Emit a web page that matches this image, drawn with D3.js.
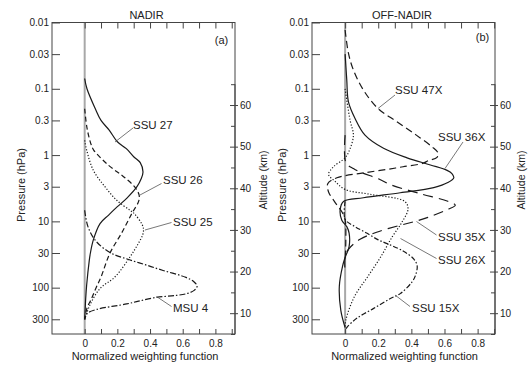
<!DOCTYPE html>
<html><head><meta charset="utf-8">
<script src="https://cdn.jsdelivr.net/npm/d3@7/dist/d3.min.js"></script>
<style>
body{margin:0;background:#fff}
svg{display:block}
text{font-family:"Liberation Sans",Arial,sans-serif;fill:#222}
</style>
</head><body>
<svg id="chart" width="528" height="365"></svg>
<script>
// ---------- data ----------
const pressureTicks = [0.01, 0.03, 0.1, 0.3, 1, 3, 10, 30, 100, 300];
const pressureTickLabels = ["0.01", "0.03", "0.1", "0.3", "1", "3", "10", "30", "100", "300"];
const altitudeTicks = [10, 20, 30, 40, 50, 60];
const altitudeMinorTicks = [5, 15, 25, 35, 45, 55, 65];
const weightTicks = [0, 0.2, 0.4, 0.6, 0.8];
const weightMinorTicks = [0, 0.1, 0.2, 0.3, 0.4, 0.5, 0.6, 0.7, 0.8, 0.9];
const panelTitles = ["NADIR", "OFF-NADIR"];
const panelTags = ["(a)", "(b)"];

// [pressure hPa, normalized weight]
const ssu27 = [[0.07,0],[0.1,0.014],[0.2,0.065],[0.3,0.1],[0.42,0.15],[0.63,0.2],[0.8,0.255],[1.06,0.3],[1.3,0.34],[1.8,0.357],[2.3,0.345],[3.0,0.32],[4.5,0.257],[6,0.2],[8.1,0.145],[10.8,0.094],[19,0.053],[30,0.035],[39,0.028],[92,0.012],[150,0.006],[300,0]];
const ssu26 = [[0.2,0],[0.4,0.015],[0.7,0.04],[0.84,0.055],[1.42,0.145],[2.1,0.236],[3.0,0.305],[4.0,0.333],[5.0,0.33],[7.5,0.29],[15,0.226],[30,0.155],[69,0.1],[100,0.07],[150,0.04],[200,0.015],[300,0]];
const ssu25 = [[0.6,0],[0.84,0.012],[1.7,0.053],[3.0,0.124],[4.8,0.196],[6.8,0.277],[7.7,0.305],[11,0.35],[13,0.36],[16,0.355],[21.6,0.328],[34.5,0.277],[69,0.185],[103,0.094],[183,0.032],[300,0]];
const msu4 = [[6.8,0],[12,0.02],[20,0.07],[30,0.16],[37,0.26],[45,0.37],[55,0.48],[70,0.62],[82,0.67],[95,0.688],[110,0.67],[122,0.63],[131,0.56],[140,0.44],[160,0.33],[176,0.257],[214,0.07],[245,0.016],[300,0]];

const ssu47x = [[0.013,0],[0.029,0.02],[0.052,0.05],[0.104,0.11],[0.2,0.2],[0.31,0.31],[0.5,0.43],[0.75,0.525],[0.92,0.56],[1.08,0.555],[1.22,0.5],[1.33,0.47],[1.5,0.35],[1.65,0.25],[1.86,0.11],[2.2,-0.05],[2.7,-0.105],[3.6,-0.1],[5.2,-0.06],[7.3,-0.018],[9.5,0],[20,0.004],[40,0]];
const ssu36x = [[0.03,0],[0.074,0.01],[0.157,0.02],[0.28,0.06],[0.5,0.12],[0.79,0.232],[1.1,0.374],[1.41,0.515],[1.7,0.616],[1.9,0.645],[2.2,0.656],[2.6,0.62],[3.1,0.535],[3.7,0.333],[4.4,0.11],[5.0,-0.01],[6.7,-0.03],[9.6,-0.02],[12,0.01],[15,0.024],[24,0.024],[35,0],[48,-0.016],[95,-0.035],[220,-0.026],[400,0]];
const ssu35x = [[0.5,0],[1.3,0.005],[1.6,0.05],[1.8,0.09],[2.33,0.21],[2.77,0.27],[3.8,0.45],[4.98,0.62],[5.7,0.665],[6.6,0.62],[8.7,0.5],[9.9,0.43],[11.5,0.33],[14.6,0.19],[18.6,0.09],[26.4,0.02],[35,0],[60,0]];
const ssu26x = [[0.1,0],[0.3,0.03],[0.5,0.05],[0.8,0.03],[1.1,0],[1.5,-0.07],[1.95,-0.1],[2.5,-0.06],[3.3,0],[3.9,0.15],[5.0,0.36],[6.5,0.38],[10.6,0.34],[17,0.285],[34,0.216],[69,0.135],[138,0.055],[310,0.004],[400,0]];
const ssu15x = [[5,0],[9.3,0],[12,0.06],[15,0.13],[19,0.2],[22,0.26],[28,0.35],[37,0.415],[47,0.435],[65,0.425],[82,0.404],[123,0.333],[146,0.273],[207,0.17],[290,0.07],[400,0.01],[450,0]];

const nadirSeries = [
  {name:"SSU 27", data:ssu27, dash:null},
  {name:"SSU 26", data:ssu26, dash:"5,3"},
  {name:"SSU 25", data:ssu25, dash:"1.2,1.8"},
  {name:"MSU 4",  data:msu4,  dash:"6,2,1.5,2"}
];
const offSeries = [
  {name:"SSU 47X", data:ssu47x, dash:"7,4"},
  {name:"SSU 36X", data:ssu36x, dash:null},
  {name:"SSU 35X", data:ssu35x, dash:"10,6"},
  {name:"SSU 26X", data:ssu26x, dash:"1.2,1.8"},
  {name:"SSU 15X", data:ssu15x, dash:"5,2,1.5,2"}
];
const nadirLabels = [
  {t:"SSU 27", tx:133, ty:129, lx1:133, ly1:128, lx2:115, ly2:142},
  {t:"SSU 26", tx:163, ty:184, lx1:161.5, ly1:183.5, lx2:140, ly2:195},
  {t:"SSU 25", tx:173, ty:226, lx1:171.5, ly1:222.5, lx2:145, ly2:230},
  {t:"MSU 4",  tx:173, ty:312, lx1:171.5, ly1:306.5, lx2:156.5, ly2:296.5}
];
const offLabels = [
  {t:"SSU 47X", tx:395, ty:94, lx1:395, ly1:95, lx2:378, ly2:108.5},
  {t:"SSU 36X", tx:438, ty:141, lx1:463, ly1:142, lx2:445, ly2:168.5},
  {t:"SSU 35X", tx:438, ty:241, lx1:436.5, ly1:235, lx2:416.5, ly2:221.5},
  {t:"SSU 26X", tx:438, ty:264, lx1:436.5, ly1:258.5, lx2:400.5, ly2:238.5},
  {t:"SSU 15X", tx:412, ty:312, lx1:410, ly1:306.5, lx2:395, ly2:295}
];

// ---------- drawing ----------
const svg = d3.select("#chart");
const plotTop = 22.5, plotBottom = 334;
const y = d3.scaleLog().domain([0.01, 500]).range([plotTop, plotBottom]);
const alt = d3.scaleLinear().domain([5, 65]).range([plotBottom, 84.2]);

const panels = [
  {left:52, right:235, xdom:[-0.2,0.92], series:nadirSeries, labels:nadirLabels, title:panelTitles[0], tag:panelTags[0], titleX:146.5, tagX:221.5, tagY:44, pLabX:25, aLabX:267, xLabX:145},
  {left:312, right:495, xdom:[-0.2,0.905], series:offSeries, labels:offLabels, title:panelTitles[1], tag:panelTags[1], titleX:402, tagX:482.5, tagY:41, pLabX:286, aLabX:524.5, xLabX:404.5}
];

panels.forEach(p => {
  const x = d3.scaleLinear().domain(p.xdom).range([p.left, p.right]);
  const g = svg.append("g");

  g.append("line").attr("x1", x(0)).attr("x2", x(0)).attr("y1", plotTop).attr("y2", plotBottom)
    .attr("stroke", "#a8a8a8").attr("stroke-width", 2);

  g.append("rect").attr("x", p.left).attr("y", plotTop).attr("width", p.right - p.left).attr("height", plotBottom - plotTop)
    .attr("fill", "none").attr("stroke", "#444").attr("stroke-width", 1);

  const ax = g.append("g").attr("transform", `translate(${p.left},0)`)
    .call(d3.axisLeft(y).tickValues(pressureTicks).tickFormat((d,i) => pressureTickLabels[i])
      .tickSizeInner(-8).tickSizeOuter(0).tickPadding(3));
  ax.select(".domain").remove();
  ax.selectAll("line").attr("stroke", "#444");
  ax.selectAll("text").style("font-size", "10px").attr("fill", "#333");

  const bx = g.append("g").attr("transform", `translate(0,${plotBottom})`)
    .call(d3.axisBottom(x).tickValues(weightMinorTicks).tickFormat("").tickSizeInner(-5).tickSizeOuter(0));
  bx.select(".domain").remove();
  bx.selectAll("line").attr("stroke", "#444");
  const bl = g.append("g").attr("transform", `translate(0,${plotBottom})`)
    .call(d3.axisBottom(x).tickValues(weightTicks).tickFormat(d3.format("~g")).tickSizeInner(0).tickSizeOuter(0).tickPadding(6));
  bl.select(".domain").remove();
  bl.selectAll("text").style("font-size", "10px").attr("fill", "#333");

  const tx = g.append("g").attr("transform", `translate(0,${plotTop})`)
    .call(d3.axisTop(x).tickValues(weightMinorTicks).tickFormat("").tickSizeInner(-6).tickSizeOuter(0));
  tx.select(".domain").remove();
  tx.selectAll("line").attr("stroke", "#444");

  const rx = g.append("g").attr("transform", `translate(${p.right},0)`)
    .call(d3.axisRight(alt).tickValues(altitudeTicks).tickSizeInner(3).tickSizeOuter(0).tickPadding(2));
  rx.select(".domain").attr("d", `M0,${alt(65)}V${plotBottom}`).attr("stroke", "#444");
  rx.selectAll(".tick line").attr("x1", -5).attr("stroke", "#444");
  rx.selectAll("text").style("font-size", "10px").attr("fill", "#333");
  const rm = g.append("g").attr("transform", `translate(${p.right},0)`)
    .call(d3.axisRight(alt).tickValues(altitudeMinorTicks).tickFormat("").tickSizeInner(0).tickSizeOuter(0));
  rm.select(".domain").remove();
  rm.selectAll(".tick line").attr("x1", -4).attr("stroke", "#444");

  const line = d3.line().x(d => x(d[1])).y(d => y(d[0])).curve(d3.curveCatmullRom.alpha(0.5));
  g.append("g").selectAll("path").data(p.series).join("path")
    .attr("d", d => line(d.data))
    .attr("fill", "none").attr("stroke", "#1a1a1a").attr("stroke-width", 1.2)
    .attr("stroke-dasharray", d => d.dash);

  p.labels.forEach(l => {
    g.append("line").attr("x1", l.lx1).attr("y1", l.ly1).attr("x2", l.lx2).attr("y2", l.ly2)
      .attr("stroke", "#555").attr("stroke-width", 0.8);
    g.append("text").attr("x", l.tx).attr("y", l.ty).text(l.t).style("font-size", "11.5px").attr("fill", "#111");
  });

  g.append("text").attr("x", p.titleX).attr("y", 19).attr("text-anchor", "middle").style("font-size", "11px").text(p.title);
  g.append("text").attr("x", p.tagX).attr("y", p.tagY).attr("text-anchor", "middle").style("font-size", "11px").text(p.tag);
  g.append("text").attr("transform", `translate(${p.pLabX},185) rotate(-90)`).attr("text-anchor", "middle")
    .style("font-size", "11px").text("Pressure (hPa)");
  g.append("text").attr("transform", `translate(${p.aLabX},180) rotate(-90)`).attr("text-anchor", "middle")
    .style("font-size", "10.5px").text("Altitude (km)");
  g.append("text").attr("x", p.xLabX).attr("y", 360).attr("text-anchor", "middle")
    .style("font-size", "11px").text("Normalized weighting function");
});
</script>
</body></html>
